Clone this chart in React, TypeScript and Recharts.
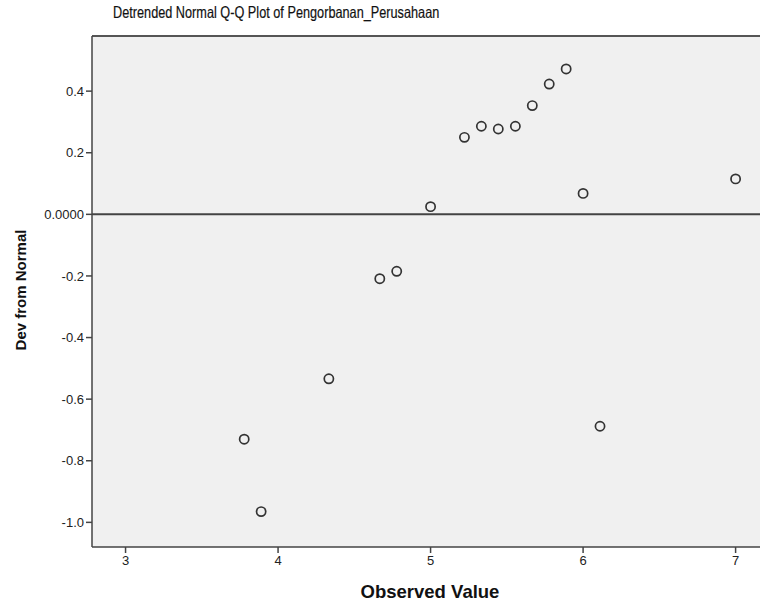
import React from "react";
import {
  ScatterChart,
  Scatter,
  XAxis,
  YAxis,
  ReferenceLine,
  ReferenceArea,
} from "recharts";

const observedValues = [3.778, 3.889, 4.333, 4.667, 4.778, 5.0, 5.222, 5.333, 5.444, 5.556, 5.667, 5.778, 5.889, 6.0, 6.111, 7.0];
const devFromNormal = [-0.73, -0.965, -0.534, -0.209, -0.185, 0.025, 0.25, 0.286, 0.277, 0.286, 0.353, 0.423, 0.472, 0.068, -0.688, 0.115];
const xTicks = [3, 4, 5, 6, 7];
const yTicks = [-1.0, -0.8, -0.6, -0.4, -0.2, 0, 0.2, 0.4];

const chartTitle = "Detrended Normal Q-Q Plot of Pengorbanan_Perusahaan";
const xTitle = "Observed Value";
const yTitle = "Dev from Normal";

const X_DOMAIN: [number, number] = [2.78, 7.16];
const Y_DOMAIN: [number, number] = [-1.08, 0.579];

const data = observedValues.map((x, i) => ({ x, y: devFromNormal[i] }));

const FONT = '"Liberation Sans", Arial, sans-serif';

const Ring = (props: any) => {
  const { cx, cy } = props;
  if (cx == null || cy == null) return null;
  return <circle cx={cx} cy={cy} r={4.6} fill="none" stroke="#333" strokeWidth={1.7} />;
};

const fmtY = (v: number) => (v === 0 ? "0.0000" : v.toFixed(1));

export default function App() {
  return (
    <div
      style={{
        position: "fixed",
        left: 0,
        top: 0,
        width: 760,
        height: 605,
        background: "#fff",
        fontFamily: FONT,
        overflow: "hidden",
      }}
    >
      <div
        style={{
          position: "absolute",
          left: 113,
          top: 3,
          fontSize: 16.5,
          color: "#111",
          whiteSpace: "nowrap",
          transform: "scaleX(0.77)",
          transformOrigin: "left center",
          WebkitTextStroke: "0.2px #111",
        }}
      >
        {chartTitle}
      </div>
      <div
        style={{
          position: "absolute",
          left: 0,
          width: 860,
          textAlign: "center",
          top: 581,
          fontSize: 18.5,
          fontWeight: "bold",
          color: "#111",
        }}
      >
        {xTitle}
      </div>
      <div
        style={{
          position: "absolute",
          left: 20,
          top: 290,
          fontSize: 15,
          fontWeight: "bold",
          color: "#111",
          whiteSpace: "nowrap",
          transform: "translate(-50%, -50%) rotate(-90deg)",
        }}
      >
        {yTitle}
      </div>
      <div style={{ position: "absolute", left: 0, top: 0 }}>
        <ScatterChart
          width={760}
          height={605}
          margin={{ top: 36, right: 0, bottom: 0, left: 0 }}
        >
          <ReferenceArea
            x1={X_DOMAIN[0]}
            x2={X_DOMAIN[1]}
            y1={Y_DOMAIN[0]}
            y2={Y_DOMAIN[1]}
            fill="#f0f0f0"
            fillOpacity={1}
            stroke="none"
            ifOverflow="visible"
          />
          <ReferenceLine y={Y_DOMAIN[1]} stroke="#555" strokeWidth={2} ifOverflow="visible" />
          <XAxis
            type="number"
            dataKey="x"
            domain={X_DOMAIN}
            ticks={xTicks}
            allowDataOverflow
            height={58}
            stroke="#444"
            strokeWidth={1.5}
            tickSize={6}
            tickMargin={3}
            tick={{ fill: "#222", fontSize: 13, fontFamily: FONT }}
            interval={0}
          />
          <YAxis
            type="number"
            dataKey="y"
            domain={Y_DOMAIN}
            ticks={yTicks}
            allowDataOverflow
            width={92}
            stroke="#444"
            strokeWidth={1.5}
            tickSize={6}
            tickMargin={2}
            tickFormatter={fmtY}
            tick={{ fill: "#222", fontSize: 13, fontFamily: FONT }}
            interval={0}
          />
          <ReferenceLine y={0} stroke="#444" strokeWidth={2} />
          <Scatter data={data} shape={<Ring />} isAnimationActive={false} />
        </ScatterChart>
      </div>
    </div>
  );
}
